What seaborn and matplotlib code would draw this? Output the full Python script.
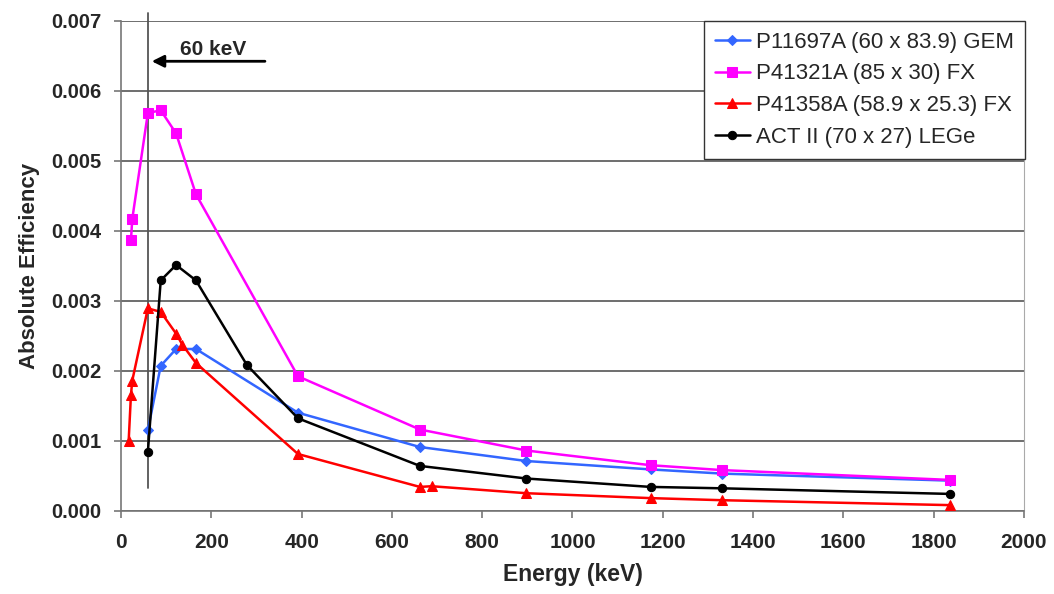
import matplotlib
matplotlib.use("Agg")
import matplotlib.pyplot as plt
import seaborn as sns
import pandas as pd

# ---- data ----
gem_energy = [59.5, 88, 122, 166, 392, 662, 898, 1173, 1332, 1836]
gem_eff = [0.00115, 0.00207, 0.00231, 0.00231, 0.00140, 0.00091, 0.00071, 0.00059, 0.00053, 0.00043]

fx85_energy = [22, 25, 59.5, 88, 122, 166, 392, 662, 898, 1173, 1332, 1836]
fx85_eff = [0.00386, 0.00417, 0.00568, 0.00572, 0.00539, 0.00452, 0.00192, 0.00116, 0.00086, 0.00065, 0.00058, 0.00044]

fx58_energy = [17, 22, 25, 59.5, 88, 122, 136, 166, 392, 662, 688, 898, 1173, 1332, 1836]
fx58_eff = [0.00100, 0.00165, 0.00186, 0.00289, 0.00284, 0.00253, 0.00237, 0.00211, 0.00081, 0.00034, 0.00035, 0.00025, 0.00018, 0.00015, 0.00008]

lege_energy = [59.5, 88, 122, 166, 279, 392, 662, 898, 1173, 1332, 1836]
lege_eff = [0.00084, 0.00329, 0.00351, 0.00329, 0.00208, 0.00132, 0.00064, 0.00046, 0.00034, 0.00032, 0.00024]

series_names = ["P11697A (60 x 83.9) GEM", "P41321A (85 x 30) FX",
                "P41358A (58.9 x 25.3) FX", "ACT II (70 x 27) LEGe"]
x_ticks = [0, 200, 400, 600, 800, 1000, 1200, 1400, 1600, 1800, 2000]
y_ticks = [0.000, 0.001, 0.002, 0.003, 0.004, 0.005, 0.006, 0.007]

# ---- style ----
sns.set_style("white")
plt.rcParams['font.family'] = ['Liberation Sans', 'DejaVu Sans']

fig = plt.figure(figsize=(10.54, 5.94), dpi=100)
ax = fig.add_axes([0.1148, 0.1402, 0.9715 - 0.1148, 0.9652 - 0.1402])

styles = [
    (gem_energy, gem_eff, "#3366FF", "D", 5),
    (fx85_energy, fx85_eff, "#FF00FF", "s", 7),
    (fx58_energy, fx58_eff, "#FF0000", "^", 7),
    (lege_energy, lege_eff, "#000000", "o", 6),
]
for name, (xs, ys, col, mk, ms) in zip(series_names, styles):
    df = pd.DataFrame({"Energy": xs, "Eff": ys})
    sns.lineplot(data=df, x="Energy", y="Eff", ax=ax, color=col, marker=mk,
                 markersize=ms, markeredgecolor=col, linewidth=1.8,
                 sort=False, label=name, zorder=3)

ax.set_xlim(0, 2000)
ax.set_ylim(0, 0.007)
ax.set_xticks(x_ticks)
ax.set_yticks(y_ticks)
ax.set_xticklabels([str(t) for t in x_ticks], fontsize=15, fontweight="bold")
ax.set_yticklabels([f"{t:.3f}" for t in y_ticks], fontsize=14.5, fontweight="bold")
ax.yaxis.grid(True, color="#555555", linewidth=1.2)
ax.xaxis.grid(False)
ax.set_axisbelow(True)

for side in ["left", "bottom"]:
    ax.spines[side].set_color("#777777")
    ax.spines[side].set_linewidth(1.2)
ax.spines["right"].set_color("#aaaaaa")
ax.spines["top"].set_visible(False)
ax.tick_params(axis="both", which="major", direction="out", length=5,
               width=1.2, color="#777777", bottom=True, left=True)
ax.tick_params(axis="x", pad=11)
ax.tick_params(axis="y", pad=9)

ax.set_xlabel("Energy (keV)", fontsize=16.5, fontweight="bold", labelpad=8)
ax.set_ylabel("Absolute Efficiency", fontsize=16, fontweight="bold", labelpad=8)

# 60 keV marker line and annotation
ax.axvline(60, ymin=0.046, ymax=1.015, color="#555555", linewidth=1.3,
           clip_on=False, zorder=2)
ax.annotate("", xy=(62, 0.00642), xytext=(325, 0.00642),
            arrowprops=dict(arrowstyle="-|>", color="black", lw=2,
                            mutation_scale=18))
ax.text(204, 0.00659, "60 keV", fontsize=15, fontweight="bold",
        ha="center", va="center")

leg = ax.legend(loc="upper right", bbox_to_anchor=(1.001, 1.0), borderaxespad=0,
                fancybox=False, edgecolor="#333333", fontsize=16,
                handlelength=1.6, handletextpad=0.25, labelspacing=0.48,
                borderpad=0.5, framealpha=1)
leg.get_frame().set_linewidth(1.0)

fig.savefig("out.png", dpi=100)
